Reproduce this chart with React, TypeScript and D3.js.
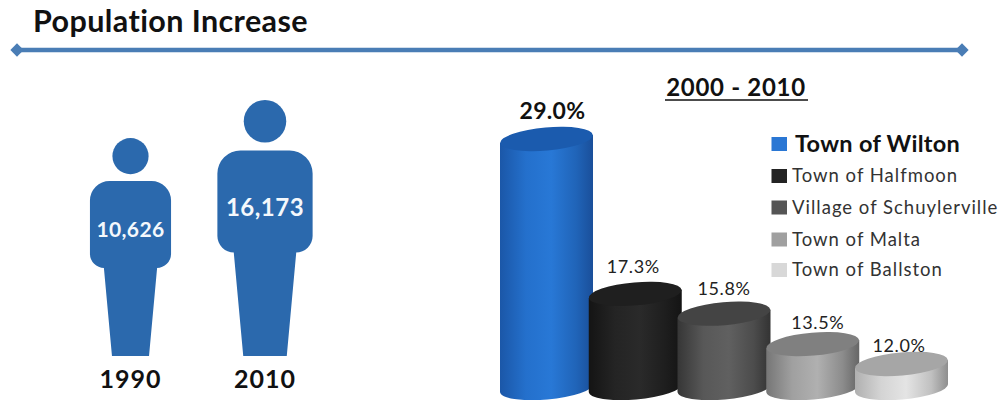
import React from "react";
import * as d3 from "d3";

// Resident counts shown as person figures
const censusYears = ["1990", "2010"];
const censusPopulation = [10626, 16173];
const censusLabels = ["10,626", "16,173"];

// Growth rates shown as cylinders
const towns = ["Town of Wilton", "Town of Halfmoon", "Village of Schuylerville", "Town of Malta", "Town of Ballston"];
const growth = [29.0, 17.3, 15.8, 13.5, 12.0];
const growthLabels = ["29.0%", "17.3%", "15.8%", "13.5%", "12.0%"];
const sideStops = [
  ["#1b57a8", "#2470cc", "#2878d6", "#2064b8", "#1a4f9a"],
  ["#141414", "#242424", "#2a2a2a", "#1e1e1e", "#141414"],
  ["#363636", "#585858", "#606060", "#4c4c4c", "#333333"],
  ["#767676", "#a0a0a0", "#b0b0b0", "#8c8c8c", "#666666"],
  ["#b0b0b0", "#d4d4d4", "#e4e4e4", "#c0c0c0", "#8e8e8e"],
];
const capColors = ["#1b5bae", "#1f1f1f", "#444444", "#808080", "#a6a6a6"];
const swatchColors = ["#2a77d4", "#232323", "#555555", "#a0a0a0", "#d8d8d8"];
const stopOffsets = [0, 0.28, 0.55, 0.82, 1];

const W = 1000;
const H = 400;
const FONT = "Lato, 'Open Sans', sans-serif";
const BLUE = "#2b69ad";
const RULE = "#4a7db5";

// Figure height follows the population, feet stay on a shared ground line
const figureHeight = d3.scaleLinear().domain([10626, 16173]).range([218, 256]);
const figureCx = d3.scaleOrdinal<string, number>().domain(censusYears).range([130.5, 265]);
const GROUND = 356;

// Cylinder tops, on the same truncated axis used for the whole series
const topY = d3.scaleLinear().domain([12, 29]).range([364, 139]);
const cylX = d3.scalePoint<string>().domain(towns).range([546.5, 901.5]);
const CYL_RX = 46.5;
const CYL_RY = 11.5;
const CYL_BOTTOM = 388;
const TILT = -5;

// Hand nudges that keep the value labels clear of the caps: [dx, height above cap]
const labelNudgeX = [6, -2, 0, 5, -2.5];
const labelLift = [20, 21, 18.6, 15, 12.3];

// Person outline in units of figure height, centred on x = 0, ground at y = 0
function personPath(h: number) {
  const p = d3.path();
  const bw = 0.186 * h;
  const top = 0.803 * h;
  const hip = 0.404 * h;
  const r = 0.09 * h;
  const legTop = 0.122 * h;
  const legBottom = 0.085 * h;
  p.moveTo(-bw + r, -top);
  p.lineTo(bw - r, -top);
  p.arcTo(bw, -top, bw, -top + r, r);
  p.lineTo(bw, -hip - 0.065 * h);
  p.arcTo(bw, -hip, legTop, -hip, 0.065 * h);
  p.lineTo(legTop, -hip);
  p.lineTo(legBottom, 0);
  p.lineTo(-legBottom, 0);
  p.lineTo(-legTop, -hip);
  p.arcTo(-bw, -hip, -bw, -hip - 0.065 * h, 0.065 * h);
  p.lineTo(-bw, -top + r);
  p.arcTo(-bw, -top, -bw + r, -top, r);
  p.closePath();
  return p.toString();
}

function Person({ i }: { i: number }) {
  const h = figureHeight(censusPopulation[i]);
  const cx = figureCx(censusYears[i]);
  return (
    <g transform={`translate(${cx},${GROUND})`}>
      <path d={personPath(h)} fill={BLUE} />
      <circle cy={-h + 0.083 * h} r={0.083 * h} fill={BLUE} />
      <text y={-0.547 * h} textAnchor="middle" fontSize={i === 0 ? 21 : 24} fontWeight={700} letterSpacing={i === 0 ? 0.4 : 0.5} fill="#f4f8fc">
        {censusLabels[i]}
      </text>
      <text y={32} textAnchor="middle" fontSize={25} fontWeight={700} letterSpacing={1} fill="#111">
        {censusYears[i]}
      </text>
    </g>
  );
}

function Cylinder({ i }: { i: number }) {
  const town = towns[i];
  const cx = cylX(town) as number;
  const y = topY(growth[i]);
  const slope = Math.tan((TILT * Math.PI) / 180) * CYL_RX;
  // Body runs from the tilted top ellipse down to the tilted bottom ellipse
  const body =
    `M${cx - CYL_RX},${y - slope} ` +
    `L${cx - CYL_RX},${CYL_BOTTOM - slope} ` +
    `A${CYL_RX},${CYL_RY} ${TILT} 0 0 ${cx + CYL_RX},${CYL_BOTTOM + slope} ` +
    `L${cx + CYL_RX},${y + slope} Z`;
  const big = i === 0;
  return (
    <g>
      <path d={body} fill={`url(#side-${i})`} />
      <ellipse cx={cx} cy={y} rx={CYL_RX} ry={CYL_RY} transform={`rotate(${TILT} ${cx} ${y})`} fill={capColors[i]} />
      <text
        x={cx + labelNudgeX[i]}
        y={y - labelLift[i]}
        textAnchor="middle"
        fontSize={big ? 23 : 18}
        fontWeight={big ? 700 : 400}
        letterSpacing={big ? 0.3 : 0.6}
        fill={big ? "#111" : "#222"}
      >
        {growthLabels[i]}
      </text>
    </g>
  );
}

export default function App() {
  const legendY = d3.scaleOrdinal<string, number>().domain(towns).range([144, 176, 207.5, 239.5, 270]);
  return (
    <svg width={W} height={H} viewBox={`0 0 ${W} ${H}`} fontFamily={FONT} style={{ position: "absolute", left: 0, top: 0, background: "#fff" }}>
      <defs>
        {sideStops.map((stops, i) => (
          <linearGradient key={i} id={`side-${i}`} x1="0" x2="1" y1="0" y2="0">
            {stops.map((c, j) => (
              <stop key={j} offset={stopOffsets[j]} stopColor={c} />
            ))}
          </linearGradient>
        ))}
      </defs>

      <text x={33} y={32} fontSize={30.5} fontWeight={700} letterSpacing={0.4} fill="#111">Population Increase</text>
      <line x1={17} x2={962} y1={50} y2={50} stroke={RULE} strokeWidth={4.5} />
      {[17, 962].map((x) => (
        <path key={x} d={d3.symbol(d3.symbolDiamond2, 112)() as string} transform={`translate(${x},50)`} fill={RULE} />
      ))}

      {censusYears.map((_, i) => <Person key={i} i={i} />)}

      <text x={736} y={96} textAnchor="middle" fontSize={24} fontWeight={700} letterSpacing={0.7} fill="#111">2000 - 2010</text>
      <line x1={665} x2={808} y1={100} y2={100} stroke="#111" strokeWidth={1.6} />

      {towns.map((_, i) => <Cylinder key={i} i={i} />)}

      {towns.map((t, i) => {
        const y = legendY(t);
        const big = i === 0;
        return (
          <g key={t}>
            <rect x={771.5} y={y - 7} width={15.5} height={14} fill={swatchColors[i]} />
            <text
              x={big ? 795 : 792}
              y={y + (big ? 8 : 6)}
              fontSize={big ? 23.5 : 18.5}
              fontWeight={big ? 700 : 400}
              letterSpacing={big ? 0.3 : 1}
              fill={big ? "#111" : "#333"}
            >
              {t}
            </text>
          </g>
        );
      })}
    </svg>
  );
}
